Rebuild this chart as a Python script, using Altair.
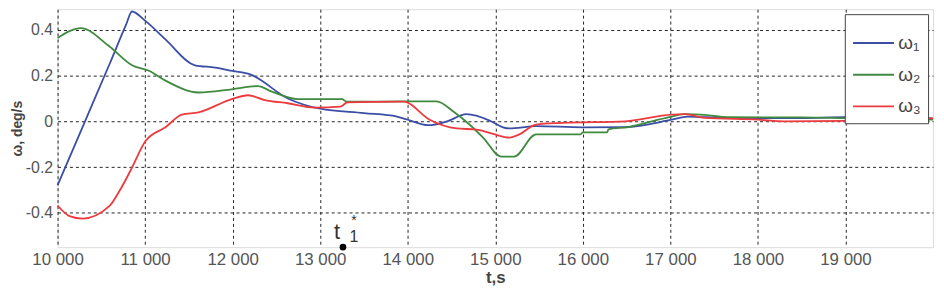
import altair as alt
import pandas as pd

# ---- data ----
t1 = [10000, 10300, 10600, 10780, 10850, 11000, 11232, 11570, 11800, 12000, 12200, 12630, 13000,
      13500, 13877, 13990, 14237, 14450, 14670, 14935, 15087, 15160, 15465, 15994, 16485, 17015,
      17200, 17600, 18000, 18500, 19000, 19600, 20000]
w1 = [-0.28, -0.012, 0.256, 0.42, 0.48, 0.44, 0.358, 0.245, 0.235, 0.22, 0.205, 0.10, 0.055,
      0.036, 0.021, 0.008, -0.017, 0.0, 0.031, 0.003, -0.026, -0.031, -0.021, -0.026, -0.025,
      0.007, 0.021, 0.015, 0.014, 0.014, 0.018, 0.016, 0.013]

t2 = [10000, 10130, 10268, 10590, 10850, 11043, 11232, 11610, 11990, 12290, 12441, 12744, 13250,
      13300, 13990, 14330, 14520, 14705, 14860, 15068, 15215, 15465, 15975, 16000, 16278, 16293,
      16520, 16788, 17015, 17165, 17392, 17653, 18500, 19000, 20000]
w2 = [0.364, 0.393, 0.407, 0.328, 0.245, 0.221, 0.178, 0.126, 0.14, 0.154, 0.131, 0.097, 0.097,
      0.086, 0.087, 0.087, 0.043, -0.014, -0.071, -0.154, -0.154, -0.057, -0.057, -0.048, -0.048,
      -0.035, -0.025, 0.0, 0.021, 0.031, 0.028, 0.018, 0.017, 0.014, 0.007]

t3 = [10000, 10136, 10287, 10590, 10703, 10835, 11005, 11232, 11420, 11610, 11990, 12177, 12366,
      12630, 12933, 13231, 13310, 13953, 14250, 14558, 14785, 14974, 15163, 15276, 15465, 15767,
      16485, 17015, 17165, 17392, 18000, 18300, 19000, 19600, 20000]
w3 = [-0.368, -0.414, -0.425, -0.371, -0.307, -0.214, -0.086, -0.026, 0.029, 0.039, 0.097, 0.114,
      0.093, 0.079, 0.06, 0.064, 0.083, 0.086, 0.007, -0.031, -0.036, -0.055, -0.071, -0.057,
      -0.014, -0.007, 0.0, 0.029, 0.031, 0.015, 0.007, 0.0, 0.002, 0.01, 0.013]

series_names = ["ω₁", "ω₂", "ω₃"]
colors = ["#3a4ea5", "#3f8a3f", "#ec3a3e"]

x_ticks = [10000, 11000, 12000, 13000, 14000, 15000, 16000, 17000, 18000, 19000]
y_ticks = [-0.4, -0.2, 0, 0.2, 0.4]

mark_t = [13260]
mark_w = [-0.55]

frames = []
for name, ts, ws in zip(series_names, [t1, t2, t3], [w1, w2, w3]):
    frames.append(pd.DataFrame({"t": ts, "w": ws, "series": name}))
df = pd.concat(frames, ignore_index=True)
ann = pd.DataFrame({"t": mark_t, "w": mark_w})

FONT = "Liberation Sans"
xscale = alt.Scale(domain=[10000, 20000], nice=False, zero=False)
yscale = alt.Scale(domain=[-0.55, 0.49], nice=False, zero=False)

lines = alt.Chart(df).mark_line(strokeWidth=1.8, interpolate="monotone").encode(
    x=alt.X("t:Q", scale=xscale,
            axis=alt.Axis(values=x_ticks, title="t,s",
                          labelExpr="replace(format(datum.value, ','), ',', ' ')",
                          grid=True, gridDash=[3, 3], gridColor="#222", gridWidth=1,
                          ticks=False, domain=False, labelFontSize=17, labelColor="#555",
                          labelFont=FONT, labelPadding=4, titleFont=FONT, titleFontSize=17,
                          titleFontWeight="bold", titleColor="#444", titlePadding=3,
                          labelFlush=False)),
    y=alt.Y("w:Q", scale=yscale,
            axis=alt.Axis(values=y_ticks, title="ω, deg/s",
                          labelExpr="datum.value == 0 ? '0' : (datum.value < 0 ? '-' : '') + format(abs(datum.value), '.1f')",
                          grid=True, gridDash=[3, 3], gridColor="#222", gridWidth=1,
                          ticks=False, domain=False, labelFontSize=16, labelColor="#555",
                          labelFont=FONT, labelPadding=5, titleFont=FONT, titleFontSize=14,
                          titleFontWeight="bold", titleColor="#444", titlePadding=1)),
    color=alt.Color("series:N", scale=alt.Scale(domain=series_names, range=colors),
                    legend=alt.Legend(title=None, orient="none", legendX=794, legendY=5,
                                      symbolType="stroke", symbolSize=1700, symbolStrokeWidth=2,
                                      rowPadding=-10, labelFontSize=19, labelFont=FONT,
                                      labelColor="#444", labelOffset=3, padding=7,
                                      strokeColor="#444", fillColor="white", cornerRadius=0)),
)

dot = alt.Chart(ann).mark_point(filled=True, color="black", size=45, opacity=1).encode(
    x=alt.X("t:Q", scale=xscale), y=alt.Y("w:Q", scale=yscale))
txt_t = alt.Chart(ann).mark_text(text="t", font=FONT, fontSize=22, color="#333", dx=-6, dy=-15).encode(
    x=alt.X("t:Q", scale=xscale), y=alt.Y("w:Q", scale=yscale))
txt_1 = alt.Chart(ann).mark_text(text="1", font=FONT, fontSize=16, color="#333", dx=11, dy=-10).encode(
    x=alt.X("t:Q", scale=xscale), y=alt.Y("w:Q", scale=yscale))
txt_s = alt.Chart(ann).mark_text(text="*", font=FONT, fontSize=14, color="#333", dx=11, dy=-26).encode(
    x=alt.X("t:Q", scale=xscale), y=alt.Y("w:Q", scale=yscale))

chart = alt.layer(lines, dot, txt_t, txt_1, txt_s).properties(
    width=883, height=240,
    autosize=alt.AutoSizeParams(type="none"),
    padding={"left": 50, "top": 0, "right": 3, "bottom": 44},
).configure_view(stroke="#555", strokeWidth=1.2).configure(background="white")

chart.save("out.html", embed_options={"renderer": "svg", "actions": False})
